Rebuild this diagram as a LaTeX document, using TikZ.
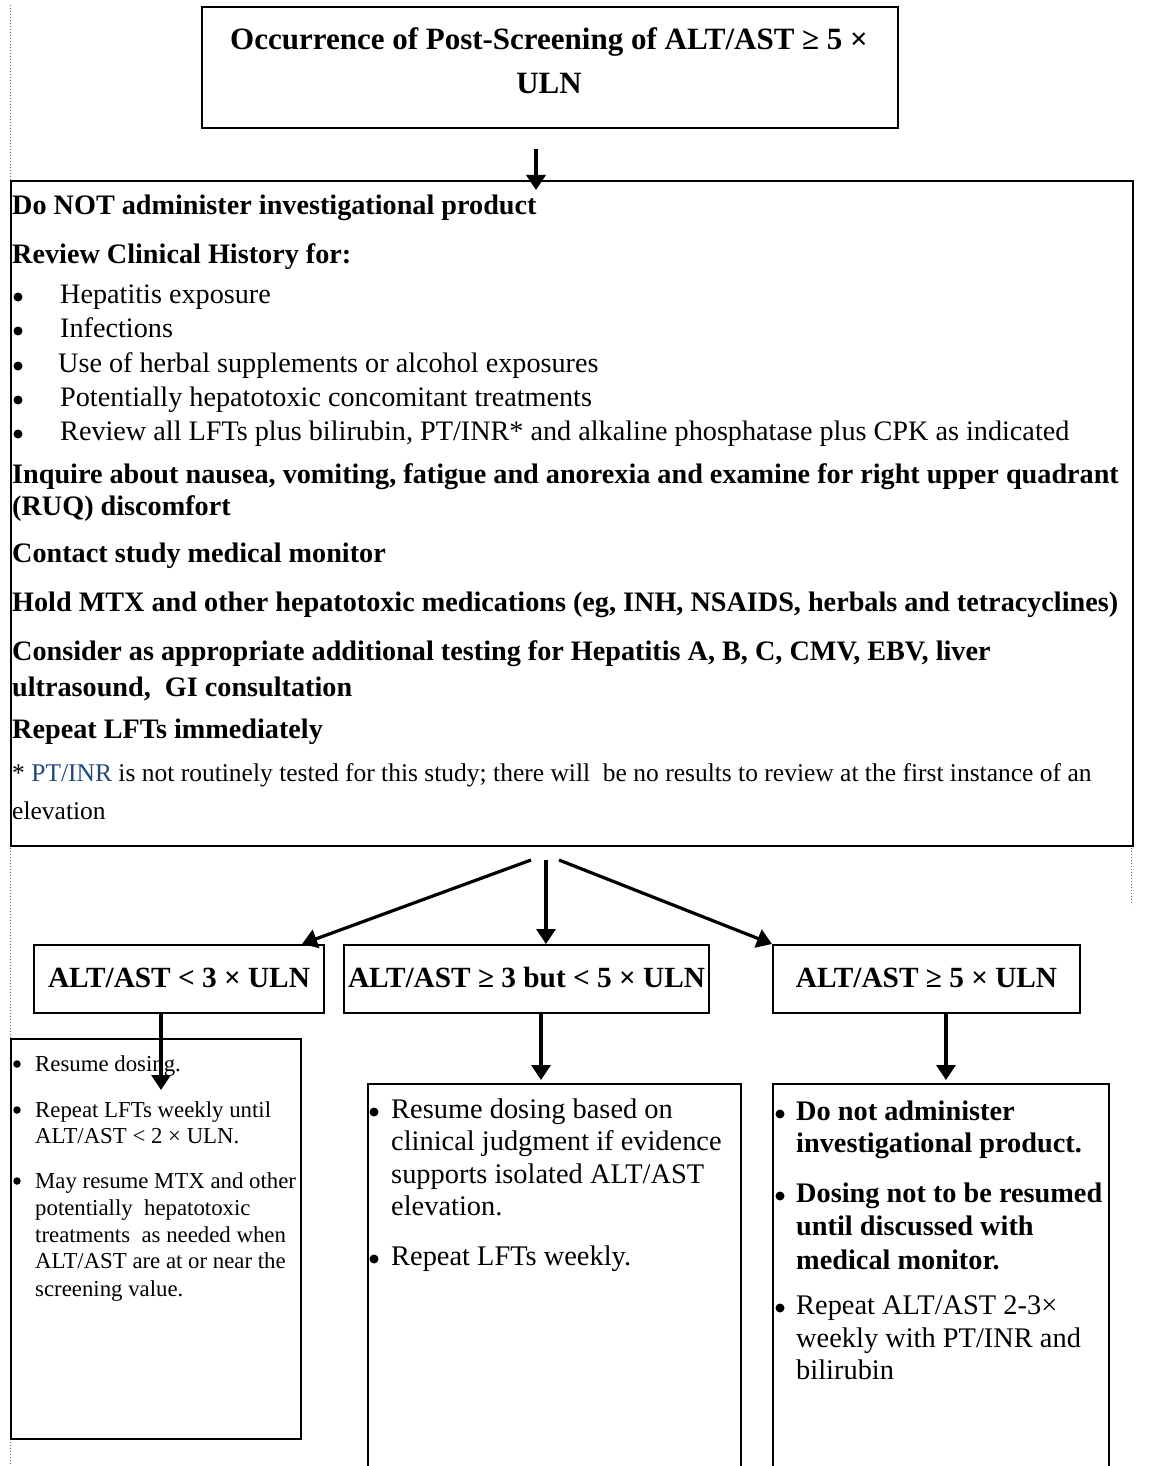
\documentclass[tikz,border=0pt]{standalone}
\usepackage{fontspec}
\setmainfont{Liberation Serif}
\usetikzlibrary{arrows.meta}
\definecolor{ptblue}{RGB}{31,73,125}
\begin{document}
\begin{tikzpicture}[x=1pt,y=-1pt,
  box/.style={draw=black, line width=2pt, rectangle, inner sep=0pt, anchor=north west},
  arr/.style={line width=3.2pt, -{Triangle[length=15pt,width=19pt]}},
  ln/.style={inner sep=0pt, anchor=west, text height=0.7em, text depth=0.2em, yshift=-6pt},
  lc/.style={ln, anchor=center},
  hb/.style={ln, font=\fontsize{28.2}{32}\selectfont\bfseries},
  nr/.style={ln, font=\fontsize{28.2}{32}\selectfont},
  fnote/.style={ln, font=\fontsize{25.5}{29}\selectfont},
  sm/.style={ln, font=\fontsize{22.8}{26}\selectfont},
  bt/.style={ln, font=\fontsize{28.4}{32}\selectfont},
  bbx/.style={ln, font=\fontsize{28.3}{32}\selectfont\bfseries},
  tb/.style={lc, font=\fontsize{31}{36}\selectfont\bfseries},
  mb/.style={lc, font=\fontsize{29.3}{34}\selectfont\bfseries},
  dot/.style={circle, fill=black, draw=none, inner sep=0pt, outer sep=0pt, minimum size=9pt},
  sdot/.style={circle, fill=black, draw=none, inner sep=0pt, outer sep=0pt, minimum size=7.5pt},
  guide/.style={draw=black!60, line width=1pt, dotted}
]
\clip (0,0) rectangle (1153,1466);
\fill[white] (0,0) rectangle (1153,1466);

% dotted guide lines
\coordinate (gl1) at (10,5);
\coordinate (gl2) at (10,1466);
\coordinate (gr1) at (1131,845);
\coordinate (gr2) at (1131,905);
\draw[guide] (gl1) -- (gl2);
\draw[guide] (gr1) -- (gr2);

% boxes
\node[box, minimum width=696pt, minimum height=121pt] (top) at (201,6) {};
\node[box, minimum width=1122pt, minimum height=665pt] (big) at (10,180) {};
\node[box, minimum width=290pt, minimum height=68pt] (A) at (33,944) {};
\node[box, minimum width=365pt, minimum height=68pt] (B) at (343,944) {};
\node[box, minimum width=307pt, minimum height=68pt] (C) at (772,944) {};
\node[box, minimum width=290pt, minimum height=400pt] (Ad) at (10,1038) {};
\node[box, minimum width=373pt, minimum height=400pt] (Bd) at (367,1083) {};
\node[box, minimum width=336pt, minimum height=400pt] (Cd) at (772,1083) {};

% top text
\node[tb] (t1) at (549,41) {Occurrence of Post-Screening of ALT/AST ≥ 5 ×};
\node[tb] (t2) at (549,85) {ULN};

% main box text
\node[hb] (m1) at (12,206) {Do NOT administer investigational product};
\node[hb] (m2) at (12,255) {Review Clinical History for:};
\node[dot] (u1) at (18,297) {};
\node[nr] (m3) at (60,295) {Hepatitis exposure};
\node[dot] (u2) at (18,331) {};
\node[nr] (m4) at (60,329) {Infections};
\node[dot] (u3) at (18,366) {};
\node[nr] (m5) at (58,364) {Use of herbal supplements or alcohol exposures};
\node[dot] (u4) at (18,400) {};
\node[nr] (m6) at (60,398) {Potentially hepatotoxic concomitant treatments};
\node[dot] (u5) at (18,434) {};
\node[nr] (m7) at (60,432) {Review all LFTs plus bilirubin, PT/INR* and alkaline phosphatase plus CPK as indicated};
\node[hb] (m8) at (12,475) {Inquire about nausea, vomiting, fatigue and anorexia and examine for right upper quadrant};
\node[hb] (m9) at (12,507) {(RUQ) discomfort};
\node[hb] (m10) at (12,554) {Contact study medical monitor};
\node[hb] (m11) at (12,603) {Hold MTX and other hepatotoxic medications (eg, INH, NSAIDS, herbals and tetracyclines)};
\node[hb] (m12) at (12,652) {Consider as appropriate additional testing for Hepatitis A, B, C, CMV, EBV, liver};
\node[hb] (m13) at (12,688) {ultrasound,\ \ GI consultation};
\node[hb] (m14) at (12,730) {Repeat LFTs immediately};
\node[fnote] (f1) at (12,773) {* \textcolor{ptblue}{PT/INR} is not routinely tested for this study; there will\ \ be no results to review at the first instance of an};
\node[fnote] (f2) at (12,811) {elevation};

% middle boxes text
\node[mb] (a1) at (A.center) {ALT/AST < 3 × ULN};
\node[mb] (b1) at (B.center) {ALT/AST ≥ 3 but < 5 × ULN};
\node[mb] (c1) at (C.center) {ALT/AST ≥ 5 × ULN};

% box A' text
\node[sdot] (ab1) at (17,1064) {};
\node[sm] (ax1) at (35,1063) {Resume dosing.};
\node[sdot] (ab2) at (17,1110) {};
\node[sm] (ax2) at (35,1109) {Repeat LFTs weekly until};
\node[sm] (ax3) at (35,1135) {ALT/AST < 2 × ULN.};
\node[sdot] (ab3) at (17,1181) {};
\node[sm] (ax4) at (35,1180) {May resume MTX and other};
\node[sm] (ax5) at (35,1207) {potentially\ \ hepatotoxic};
\node[sm] (ax6) at (35,1234) {treatments\ \ as needed when};
\node[sm] (ax7) at (35,1260) {ALT/AST are at or near the};
\node[sm] (ax8) at (35,1288) {screening value.};

% box B' text
\node[dot] (bb1) at (374,1112) {};
\node[bt] (bx1) at (391,1110) {Resume dosing based on};
\node[bt] (bx2) at (391,1142) {clinical judgment if evidence};
\node[bt] (bx3) at (391,1175) {supports isolated ALT/AST};
\node[bt] (bx4) at (391,1207) {elevation.};
\node[dot] (bb2) at (374,1259) {};
\node[bt] (bx5) at (391,1257) {Repeat LFTs weekly.};

% box C' text
\node[dot] (cb1) at (780,1114) {};
\node[bbx] (cx1) at (796,1112) {Do not administer};
\node[bbx] (cx2) at (796,1144) {investigational product.};
\node[dot] (cb2) at (780,1196) {};
\node[bbx] (cx3) at (796,1194) {Dosing not to be resumed};
\node[bbx] (cx4) at (796,1227) {until discussed with};
\node[bbx] (cx5) at (796,1261) {medical monitor.};
\node[dot] (cb3) at (780,1308) {};
\node[bt] (cx6) at (796,1306) {Repeat ALT/AST 2-3×};
\node[bt] (cx7) at (796,1339) {weekly with PT/INR and};
\node[bt] (cx8) at (796,1371) {bilirubin};

% connectors
\draw[arr] ([xshift=-14pt,yshift=-20pt]top.south) -- ([xshift=-36pt,yshift=-10pt]big.north);
\draw[arr] ([xshift=-41pt,yshift=-13pt]big.south) -- ([xshift=-23pt]A.north east);
\draw[arr] ([xshift=-26pt,yshift=-13pt]big.south) -- ([xshift=19.5pt]B.north);
\draw[arr] ([xshift=-13pt,yshift=-13pt]big.south) -- (C.north west);
\draw[arr] ([xshift=-18pt]A.south) -- ([xshift=5pt,yshift=-52pt]Ad.north);
\draw[arr] ([xshift=14.5pt]B.south) -- ([xshift=-13.5pt,yshift=3pt]Bd.north);
\draw[arr] ([xshift=19.5pt]C.south) -- ([xshift=5pt,yshift=3pt]Cd.north);
\end{tikzpicture}
\end{document}
